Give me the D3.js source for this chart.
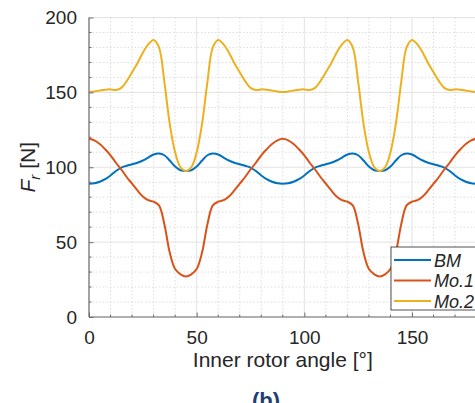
<!DOCTYPE html>
<html>
<head>
<meta charset="utf-8">
<script src="https://cdn.jsdelivr.net/npm/d3@7"></script>
<style>
    body { margin: 0; background: #fff; }
    #chart { width: 475px; height: 403px; overflow: hidden; }
    text { font-family: "Liberation Sans", Arial, Helvetica, sans-serif; fill: #262626; }
</style>
</head>
<body>
<div id="chart"></div>
<script>
// radial force vs inner rotor angle, three models

// angle samples (deg), every 2.5 from 0 to 180
const angles = d3.range(0, 180.1, 2.5);

const bmValues = [
    89, 89.3, 90.3, 92, 94.5, 97.5, 99.8, 101, 102, 103, 104.5, 106.5, 108.5, 109.2, 108, 104.5, 100.5, 98, 97.5,
    98, 100.5, 104.5, 108, 109.2, 108.5, 106.5, 104.5, 103, 102, 101, 99.8, 97.5, 94.5, 92, 90.3, 89.3, 89,
    89.3, 90.3, 92, 94.5, 97.5, 99.8, 101, 102, 103, 104.5, 106.5, 108.5, 109.2, 108, 104.5, 100.5, 98, 97.5,
    98, 100.5, 104.5, 108, 109.2, 108.5, 106.5, 104.5, 103, 102, 101, 99.8, 97.5, 94.5, 92, 90.3, 89.3, 89
];

const mo1Values = [
    119, 118, 115.5, 112, 108, 103, 98.5, 93.5, 89, 84.5, 80.5, 78, 77, 74.5, 62, 43, 32, 28.5, 27,
    28.5, 32, 43, 62, 74.5, 77, 78, 80.5, 84.5, 89, 93.5, 98.5, 103, 108, 112, 115.5, 118, 119,
    118, 115.5, 112, 108, 103, 98.5, 93.5, 89, 84.5, 80.5, 78, 77, 74.5, 62, 43, 32, 28.5, 27,
    28.5, 32, 43, 62, 74.5, 77, 78, 80.5, 84.5, 89, 93.5, 98.5, 103, 108, 112, 115.5, 118, 119
];

const mo2Values = [
    150.2, 150.6, 151.2, 151.8, 152, 151.6, 153, 157.5, 163.5, 169.5, 176.5, 182, 185, 180, 157, 129, 110, 100, 97.5,
    100, 110, 129, 157, 180, 185, 182, 176.5, 169.5, 163.5, 157.5, 153, 151.6, 152, 151.8, 151.2, 150.6, 150.2,
    150.6, 151.2, 151.8, 152, 151.6, 153, 157.5, 163.5, 169.5, 176.5, 182, 185, 180, 157, 129, 110, 100, 97.5,
    100, 110, 129, 157, 180, 185, 182, 176.5, 169.5, 163.5, 157.5, 153, 151.6, 152, 151.8, 151.2, 150.6, 150.2
];

const seriesNames = ["BM", "Mo.1", "Mo.2"];
const seriesColors = ["#0072BD", "#D95319", "#EDB120"];

const xTicks = [0, 50, 100, 150];
const yTicks = [0, 50, 100, 150, 200];
const xMinorTicks = d3.range(0, 181, 10);
const yMinorTicks = d3.range(0, 201, 10);

let margin = {top: 17.5, left: 89};
let plotWidth = 387.6;   // axis runs past the right edge of the picture
let plotHeight = 299.5;

let svg = d3.select("#chart").append("svg")
    .attr("width", 475)
    .attr("height", 403);

let g = svg.append("g")
    .attr("transform", "translate(" + margin.left + "," + margin.top + ")");

// Scales
let x = d3.scaleLinear().domain([0, 180]).range([0, plotWidth]);
let y = d3.scaleLinear().domain([0, 200]).range([plotHeight, 0]);

// minor grid (dotted)
g.append("g").selectAll("line")
    .data(xMinorTicks.filter(d => d % 50 !== 0))
    .join("line")
    .attr("x1", d => x(d)).attr("x2", d => x(d))
    .attr("y1", 0).attr("y2", plotHeight)
    .attr("stroke", "#d4d4d4").attr("stroke-width", 0.8)
    .attr("stroke-dasharray", "1.5,2");

g.append("g").selectAll("line")
    .data(yMinorTicks.filter(d => d % 50 !== 0))
    .join("line")
    .attr("x1", 0).attr("x2", plotWidth)
    .attr("y1", d => y(d)).attr("y2", d => y(d))
    .attr("stroke", "#d4d4d4").attr("stroke-width", 0.8)
    .attr("stroke-dasharray", "1.5,2");

// major grid
g.append("g").selectAll("line")
    .data(xTicks)
    .join("line")
    .attr("x1", d => x(d)).attr("x2", d => x(d))
    .attr("y1", 0).attr("y2", plotHeight)
    .attr("stroke", "#e3e3e3").attr("stroke-width", 1);

g.append("g").selectAll("line")
    .data(yTicks)
    .join("line")
    .attr("x1", 0).attr("x2", plotWidth)
    .attr("y1", d => y(d)).attr("y2", d => y(d))
    .attr("stroke", "#e3e3e3").attr("stroke-width", 1);

// Lines
let line = d3.line()
    .x((d, i) => x(angles[i]))
    .y(d => y(d))
    .curve(d3.curveCatmullRom.alpha(0.5));

[bmValues, mo1Values, mo2Values].forEach((vals, k) => {
    g.append("path")
        .attr("d", line(vals))
        .attr("fill", "none")
        .attr("stroke", seriesColors[k])
        .attr("stroke-width", 2);
});

// Axes, ticks pointing inward like MATLAB
let xAxis = d3.axisBottom(x).tickValues(xTicks).tickSize(-4.5).tickPadding(14);
let yAxis = d3.axisLeft(y).tickValues(yTicks).tickSize(-4.5).tickPadding(12);

let xg = g.append("g").attr("transform", "translate(0," + plotHeight + ")").call(xAxis);
let yg = g.append("g").call(yAxis);

[xg, yg].forEach(a => {
    a.select(".domain").attr("stroke", "#6e6e6e").attr("stroke-width", 1.2);
    a.selectAll(".tick line").attr("stroke", "#6e6e6e");
    a.selectAll(".tick text")
        .attr("font-size", 19)
        .attr("font-family", "Liberation Sans, Arial, sans-serif")
        .attr("fill", "#262626");
});
xg.select(".domain").attr("d", "M0,0H" + plotWidth);
yg.select(".domain").attr("d", "M0," + plotHeight + "V0");

// minor ticks
xg.selectAll(".minor").data(xMinorTicks.filter(d => d % 50 !== 0)).join("line")
    .attr("x1", d => x(d)).attr("x2", d => x(d))
    .attr("y1", 0).attr("y2", -2.5)
    .attr("stroke", "#6e6e6e");
yg.selectAll(".minor").data(yMinorTicks.filter(d => d % 50 !== 0)).join("line")
    .attr("x1", 0).attr("x2", 2.5)
    .attr("y1", d => y(d)).attr("y2", d => y(d))
    .attr("stroke", "#6e6e6e");

// Axis labels
svg.append("text")
    .attr("x", margin.left + plotWidth / 2)
    .attr("y", 367)
    .attr("text-anchor", "middle")
    .attr("font-size", 21)
    .text("Inner rotor angle [°]");

let yLabel = svg.append("text")
    .attr("transform", "translate(35," + (margin.top + plotHeight / 2) + ") rotate(-90)")
    .attr("text-anchor", "middle")
    .attr("font-size", 21);
yLabel.append("tspan").attr("font-style", "italic").text("F");
yLabel.append("tspan").attr("font-style", "italic").attr("font-size", 15).attr("dy", 5).text("r");
yLabel.append("tspan").attr("dy", -5).text(" [N]");

// panel tag
svg.append("text")
    .attr("x", 266)
    .attr("y", 408)
    .attr("text-anchor", "middle")
    .attr("font-size", 22)
    .attr("font-weight", "bold")
    .style("fill", "#1f3f73")
    .text("(b)");

// Legend
let legend = svg.append("g").attr("transform", "translate(391,247)");
legend.append("rect")
    .attr("width", 95).attr("height", 63)
    .attr("fill", "#fff").attr("stroke", "#262626").attr("stroke-width", 0.8);

seriesNames.forEach((name, k) => {
    let row = legend.append("g").attr("transform", "translate(0," + (13 + k * 20.5) + ")");
    row.append("line")
        .attr("x1", 3).attr("x2", 40)
        .attr("stroke", seriesColors[k]).attr("stroke-width", 2);
    row.append("text")
        .attr("x", 43).attr("y", 6.5)
        .attr("font-size", 18)
        .attr("font-style", "italic")
        .text(name);
});
</script>
</body>
</html>
